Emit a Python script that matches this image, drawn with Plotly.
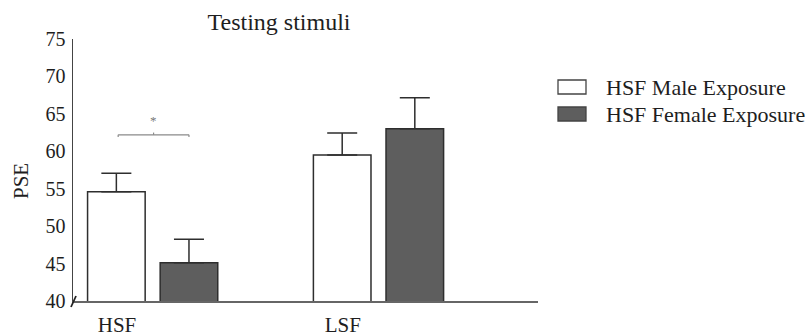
import plotly.graph_objects as go

# ---- data ----
categories = ["HSF", "LSF"]
series_names = ["HSF Male Exposure", "HSF Female Exposure"]
male_values = [54.6, 59.5]
male_errors = [2.45, 2.95]
female_values = [45.1, 63.0]
female_errors = [3.15, 4.15]
y_ticks = [40, 45, 50, 55, 60, 65, 70, 75]
sig_level = 62.2

FONT = "Liberation Serif, Times New Roman, serif"
TXT = "#1e1e1e"
EDGE = "#2e2e2e"
DARK = "#5e5e5e"

x_idx = list(range(len(categories)))
bar_w = 0.255
male_off = -0.2885
female_off = 0.033

fig = go.Figure()
fig.add_trace(go.Bar(
    x=x_idx, y=male_values, name=series_names[0],
    width=bar_w, offset=male_off,
    marker=dict(color="white", line=dict(color=EDGE, width=1.5)),
    error_y=dict(type="data", array=male_errors, arrayminus=[0]*len(male_errors),
                 symmetric=False, color=EDGE, thickness=1.5, width=15),
    showlegend=False,
))
fig.add_trace(go.Bar(
    x=x_idx, y=female_values, name=series_names[1],
    width=bar_w, offset=female_off,
    marker=dict(color=DARK, line=dict(color=EDGE, width=1.5)),
    error_y=dict(type="data", array=female_errors, arrayminus=[0]*len(female_errors),
                 symmetric=False, color=EDGE, thickness=1.5, width=15),
    showlegend=False,
))

L, R, T, B = 73, 269, 39, 35
W, H = 807, 336
pw, ph = W - L - R, H - T - B

def px_x(p):
    return (p - L) / pw

def px_y(p):
    return (H - B - p) / ph

# significance bracket between the HSF bars
mc = male_off + bar_w / 2
fc = female_off + bar_w / 2
bx0, bx1 = mc + 0.008, fc - 0.0
bmid = (bx0 + bx1) / 2
shapes = [
    dict(type="line", xref="x", yref="y", x0=bx0, x1=bx1, y0=sig_level, y1=sig_level,
         line=dict(color="#8a8a8a", width=1.2)),
    dict(type="line", xref="x", yref="y", x0=bx0, x1=bx0, y0=sig_level, y1=sig_level - 0.3,
         line=dict(color="#8a8a8a", width=1.2)),
    dict(type="line", xref="x", yref="y", x0=bx1, x1=bx1, y0=sig_level, y1=sig_level - 0.3,
         line=dict(color="#8a8a8a", width=1.2)),
    dict(type="line", xref="x", yref="y", x0=bmid, x1=bmid, y0=sig_level, y1=sig_level + 0.3,
         line=dict(color="#8a8a8a", width=1.2)),
    # axis break mark
    dict(type="line", xref="paper", yref="paper", x0=px_x(71), x1=px_x(76),
         y0=px_y(307), y1=px_y(296), line=dict(color="#222", width=1.8)),
]

annotations = [
    dict(x=bmid, y=sig_level + 1.9, xref="x", yref="y", text="*", showarrow=False,
         font=dict(family=FONT, size=13, color="#777")),
    dict(x=px_x(21), y=px_y(181), xref="paper", yref="paper", text="PSE", textangle=-90,
         xanchor="center", yanchor="middle",
         showarrow=False, font=dict(family=FONT, size=21, color=TXT)),
]

# manual legend
leg_rows = [87, 114]
leg_fills = ["white", DARK]
for name, fill, yc in zip(series_names, leg_fills, leg_rows):
    shapes.append(dict(type="rect", xref="paper", yref="paper",
                       x0=px_x(558), x1=px_x(586), y0=px_y(yc - 7), y1=px_y(yc + 7),
                       fillcolor=fill, line=dict(color="#444", width=1.3)))
    annotations.append(dict(x=px_x(604), y=px_y(yc), xref="paper", yref="paper",
                            text=name, showarrow=False, xanchor="left", yanchor="middle",
                            font=dict(family=FONT, size=22, color=TXT)))

fig.update_layout(
    width=W, height=H,
    margin=dict(l=L, r=R, t=T, b=B),
    paper_bgcolor="white", plot_bgcolor="white",
    barmode="overlay",
    title=dict(text="Testing stimuli", xref="container", x=279 / W, xanchor="center",
               y=1 - 22 / H, yanchor="middle",
               font=dict(family=FONT, size=24, color=TXT)),
    xaxis=dict(range=[-0.353, 1.706], tickvals=[i - 0.158 for i in x_idx],
               ticktext=categories, showline=True, linecolor="#666", linewidth=1.5,
               showgrid=False, zeroline=False, ticks="", ticklabelstandoff=4,
               automargin=False,
               tickfont=dict(family=FONT, size=21, color=TXT)),
    yaxis=dict(range=[40, 75], tickvals=y_ticks, showline=True, linecolor="#444",
               linewidth=1.5, showgrid=False, zeroline=False, ticks="",
               ticklabelstandoff=2, automargin=False,
               tickfont=dict(family=FONT, size=20, color=TXT)),
    shapes=shapes, annotations=annotations,
    showlegend=False,
)

fig.write_html("out.html", config={"displayModeBar": False, "staticPlot": True},
               post_script="document.body.style.margin='0';")
